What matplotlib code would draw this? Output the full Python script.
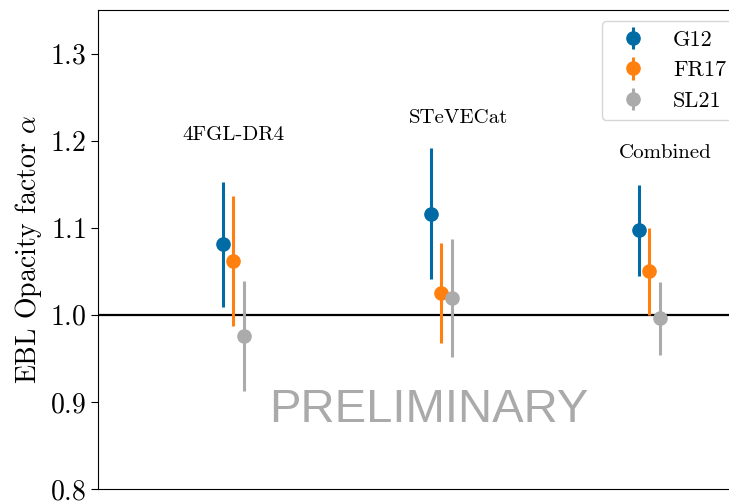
import numpy as np
import matplotlib
matplotlib.use("Agg")
import matplotlib.pyplot as plt

plt.rcParams["font.family"] = "serif"
plt.rcParams["font.serif"] = ["cmr10"]
plt.rcParams["mathtext.fontset"] = "cm"
plt.rcParams["axes.formatter.use_mathtext"] = True

# EBL opacity fits per catalogue, for three EBL models
catalogs = ["4FGL-DR4", "STeVECat", "Combined"]
models = ["G12", "FR17", "SL21"]
colors = ["#006BA4", "#FF800E", "#ABABAB"]

alpha_g12 = [1.081, 1.116, 1.097]
err_g12 = [0.072, 0.075, 0.052]
alpha_fr17 = [1.062, 1.025, 1.050]
err_fr17 = [0.075, 0.057, 0.050]
alpha_sl21 = [0.976, 1.019, 0.996]
err_sl21 = [0.063, 0.068, 0.042]

alphas = [alpha_g12, alpha_fr17, alpha_sl21]
errs = [err_g12, err_fr17, err_sl21]

fig = plt.figure(figsize=(7.29, 5.01), dpi=100)
ax = fig.add_axes([98/729, 12/501, 648/729, 479/501])

x = np.arange(len(catalogs))
offsets = [-0.05, 0.0, 0.05]

for vals, e, c, lab, off in zip(alphas, errs, colors, models, offsets):
    ax.errorbar(x + off, vals, yerr=e, fmt="o", color=c, label=lab,
                ms=9.5, elinewidth=2.2, capsize=0)

ax.axhline(1.0, color="black", lw=1.6, zorder=0)

# catalogue names above each group
label_pos = [(0.0, 1.206), (1.083, 1.226), (2.075, 1.186)]
for name, (lx, ly) in zip(catalogs, label_pos):
    ax.text(lx, ly, name, ha="center", va="center", fontsize=15)

ax.text(0.94, 0.891, "PRELIMINARY", ha="center", va="center",
        fontsize=34, color="#aaaaaa", family="Liberation Sans")

ax.set_xlim(-0.65, 2.465)
ax.set_ylim(0.8, 1.35)
ax.set_xticks([])
ax.set_yticks([0.8, 0.9, 1.0, 1.1, 1.2, 1.3])
ax.tick_params(axis="y", labelsize=20, length=5)
ax.set_ylabel(r"EBL Opacity factor $\alpha$", fontsize=20)

ax.legend(loc="upper right", prop={"family": "cmr10", "size": 16})

fig.savefig("out.png", dpi=100)
